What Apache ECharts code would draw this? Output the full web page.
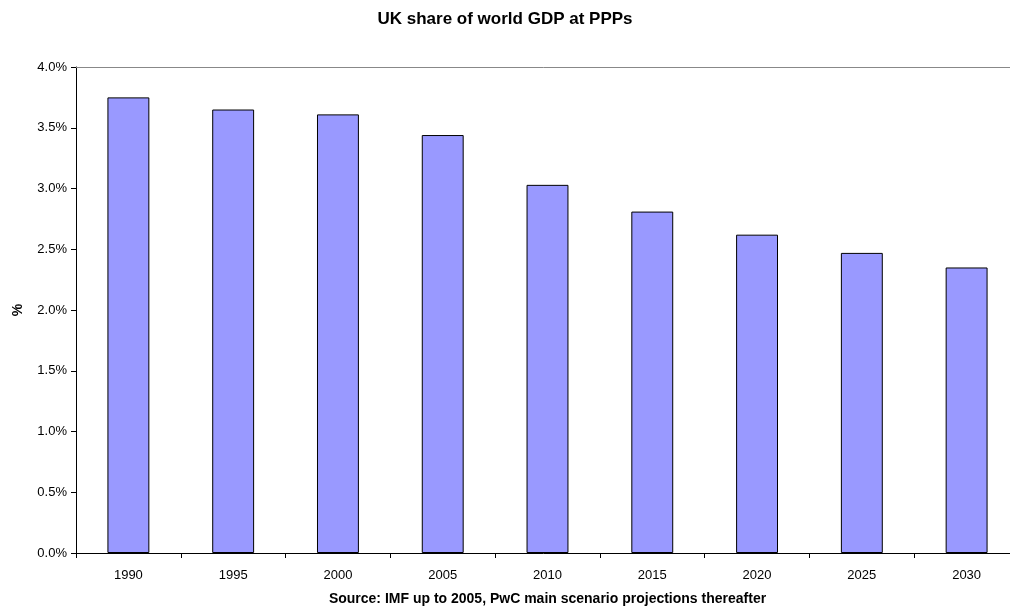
<!DOCTYPE html>
<html>
<head>
<meta charset="utf-8">
<script src="https://cdn.jsdelivr.net/npm/echarts@6/dist/echarts.min.js"></script>
<style>html,body{margin:0;padding:0;background:#fff}#c{width:1010px;height:607px}</style>
</head>
<body>
<div id="c"></div>
<script>
const years = ['1990','1995','2000','2005','2010','2015','2020','2025','2030'];
const share = [3.75, 3.65, 3.61, 3.44, 3.03, 2.81, 2.62, 2.47, 2.35];
const yTicks = { min: 0, max: 4, interval: 0.5 };

const chart = echarts.init(document.getElementById('c'));
const font = 'Liberation Sans, Arial, sans-serif';
chart.setOption({
  animation: false,
  title: {
    text: 'UK share of world GDP at PPPs',
    left: 'center', top: 6,
    textStyle: { fontFamily: font, fontSize: 17, fontWeight: 'bold', color: '#000' }
  },
  grid: { left: 76, right: -9, top: 67, bottom: 54, outerBoundsMode: 'none', containLabel: false },
  xAxis: [{
    type: 'category', data: years,
    name: 'Source: IMF up to 2005, PwC main scenario projections thereafter',
    nameLocation: 'middle', nameGap: 39,
    nameTextStyle: { fontFamily: font, fontSize: 14, fontWeight: 'bold', color: '#000' },
    axisLine: { lineStyle: { color: '#000', width: 1 } },
    axisTick: { show: true, length: 5, lineStyle: { color: '#000' } },
    axisLabel: { fontFamily: font, fontSize: 13, color: '#000', margin: 16 }
  }, {
    type: 'category', data: years, position: 'top',
    axisLine: { lineStyle: { color: '#888', width: 1 } },
    axisTick: { show: false }, axisLabel: { show: false }
  }],
  yAxis: {
    type: 'value', min: yTicks.min, max: yTicks.max, interval: yTicks.interval,
    name: '%', nameLocation: 'middle', nameGap: 51, nameRotate: 90,
    nameTextStyle: { fontFamily: font, fontSize: 14, fontWeight: 'bold', color: '#000' },
    axisLine: { show: true, lineStyle: { color: '#000', width: 1 } },
    axisTick: { show: true, length: 5, lineStyle: { color: '#000' } },
    splitLine: { show: false },
    axisLabel: { fontFamily: font, fontSize: 13, color: '#000', margin: 9,
      formatter: v => v.toFixed(1) + '%' }
  },
  series: [{
    type: 'bar', data: share, barWidth: '40%', xAxisIndex: 0,
    itemStyle: { color: '#9999FF', borderColor: '#000', borderWidth: 1 }
  }]
});
</script>
</body>
</html>
